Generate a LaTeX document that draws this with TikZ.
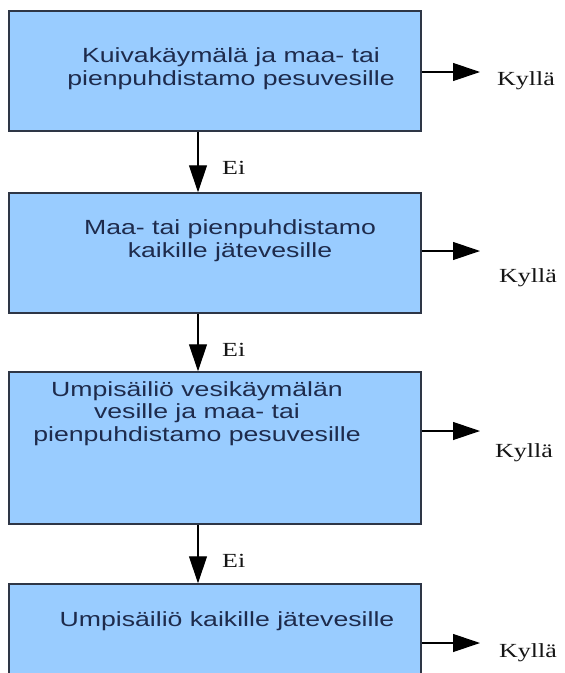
\documentclass[tikz,border=0pt]{standalone}
\usepackage{fontspec}
\usetikzlibrary{arrows.meta}
\newfontfamily\boxfont{Liberation Sans}[FakeStretch=1.3]
\newfontfamily\lblfont{Liberation Serif}[FakeStretch=1.3]
\definecolor{boxfill}{HTML}{99CCFF}
\definecolor{boxline}{HTML}{2E3646}
\definecolor{boxtext}{HTML}{1E2B4C}
\definecolor{lbltext}{HTML}{151515}
\tikzset{
  flowbox/.style={draw=boxline, line width=1.5pt, fill=boxfill, inner sep=0pt, minimum width=412pt},
  boxtxt/.style={font=\boxfont\fontsize{20.5}{22.5}\selectfont, text=boxtext, align=center, inner sep=0pt, anchor=base},
  lbl/.style={font=\lblfont\fontsize{20}{22}\selectfont, text=lbltext, inner sep=0pt, anchor=base west},
  arr/.style={draw=black, line width=1.2pt, -{Triangle[length=27pt, width=18pt]}}
}
\begin{document}
\begin{tikzpicture}[x=1pt, y=-1pt]
\useasboundingbox (0,0) rectangle (565,673);
\clip (0,0) rectangle (565,673);
\fill[white] (0,0) rectangle (565,673);
% boxes
\node[flowbox, minimum height=120pt] (b1) at (215,71) {};
\node[flowbox, minimum height=120pt] (b2) at (215,253) {};
\node[flowbox, minimum height=152pt] (b3) at (215,448) {};
\node[flowbox, minimum height=120pt] (b4) at (215,644) {};
% box texts (anchor base = baseline of last line)
\node[boxtxt] (t1) at (231,85) {Kuivakäymälä ja maa- tai\\pienpuhdistamo pesuvesille};
\node[boxtxt] (t2) at (230,257) {Maa- tai pienpuhdistamo\\kaikille jätevesille};
\node[boxtxt] (t3) at (197,441) {Umpisäiliö vesikäymälän\\vesille ja maa- tai\\pienpuhdistamo pesuvesille};
\node[boxtxt] (t4) at (227,626) {Umpisäiliö kaikille jätevesille};
% vertical connectors
\coordinate (ax) at (198,0);
\draw[arr] (b1.south -| ax) -- (b2.north -| ax);
\draw[arr] (b2.south -| ax) -- (b3.north -| ax);
\draw[arr] (b3.south -| ax) -- (b4.north -| ax);
\node[lbl] (ei1) at (222,174) {Ei};
\node[lbl] (ei2) at (222,356) {Ei};
\node[lbl] (ei3) at (222,567) {Ei};
% horizontal connectors
\coordinate (e1) at (480,72);
\coordinate (e2) at (480,251);
\coordinate (e3) at (480,431);
\coordinate (e4) at (480,643);
\draw[arr] (b1.east |- e1) -- (e1);
\draw[arr] (b2.east |- e2) -- (e2);
\draw[arr] (b3.east |- e3) -- (e3);
\draw[arr] (b4.east |- e4) -- (e4);
\node[lbl] (k1) at (497,85) {Kyllä};
\node[lbl] (k2) at (499,282) {Kyllä};
\node[lbl] (k3) at (495,457) {Kyllä};
\node[lbl] (k4) at (499,657) {Kyllä};
\end{tikzpicture}
\end{document}
